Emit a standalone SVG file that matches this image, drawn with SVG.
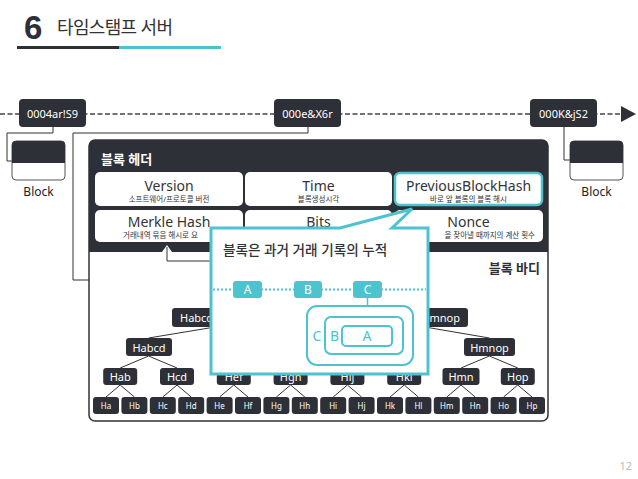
<svg xmlns="http://www.w3.org/2000/svg" width="638" height="479" viewBox="0 0 638 479">
<style>
text{font-family:"Noto Sans","Noto Sans CJK KR","Liberation Sans",sans-serif}
.dk{fill:#2e3038}
.wt{fill:#ffffff}
.ln{stroke:#333;stroke-width:1;fill:none}
.cell{fill:#fff}
.ct{font-size:14px;fill:#333;text-anchor:middle}
.cs{font-size:7.5px;fill:#333;text-anchor:middle}
.nt{font-size:11px;fill:#fff;text-anchor:middle}
.lt{font-size:8px;fill:#fff;text-anchor:middle}
.tl{fill:#4cc3cf}
.tlt{font-size:12px;fill:#fff;text-anchor:middle}
.nest{fill:none;stroke:#4cc3cf;stroke-width:2}
.nl{font-size:14px;fill:#4cc3cf;text-anchor:middle}
</style>

<g id="title">
<text x="24" y="39" style="font-family:'Liberation Sans',sans-serif;font-size:33px;font-weight:bold;fill:#2e3038">6</text>
<text x="57" y="34" textLength="116" style="font-size:18px;fill:#333">타임스탬프 서버</text>
<rect x="17" y="46" width="102" height="3" fill="#2e3038"/>
<rect x="119" y="46" width="102" height="3" fill="#4cc3cf"/>
</g>

<g id="connectors">
<line x1="0" y1="114" x2="622" y2="114" stroke="#444" stroke-width="1.5" stroke-dasharray="5,2.5"/>
<polygon points="621,106 636,114 621,122" fill="#2e3038"/>
<polyline class="ln" points="53,127 53,133 7,133 7,161 12,161"/>
<polyline class="ln" points="564,127 564,160 570,160"/>
<polyline class="ln" points="308,127 308,133 73,133 73,280 89,280"/>
</g>

<g id="node-0004">
<rect class="dk" x="19" y="99" width="67" height="28" rx="4"/>
<text class="nt" x="52.5" y="117.5">0004ar!S9</text>
</g>
<g id="node-000e">
<rect class="dk" x="274" y="99" width="67" height="28" rx="4"/>
<text class="nt" x="307.5" y="117.5">000e&amp;X6r</text>
</g>
<g id="node-000K">
<rect class="dk" x="530" y="99" width="67" height="28" rx="4"/>
<text class="nt" x="563.5" y="117.5">000K&amp;jS2</text>
</g>

<g id="block-left">
<rect x="12" y="141" width="53" height="39" rx="4" fill="#fff" stroke="#555" stroke-width="1"/>
<path d="M12,163 V145 a4,4 0 0 1 4,-4 H61 a4,4 0 0 1 4,4 V163 Z" class="dk"/>
<text x="38.5" y="196" style="font-size:12px;fill:#222;text-anchor:middle">Block</text>
</g>
<g id="block-right">
<rect x="570" y="141" width="53" height="39" rx="4" fill="#fff" stroke="#555" stroke-width="1"/>
<path d="M570,163 V145 a4,4 0 0 1 4,-4 H619 a4,4 0 0 1 4,4 V163 Z" class="dk"/>
<text x="596.5" y="196" style="font-size:12px;fill:#222;text-anchor:middle">Block</text>
</g>

<g id="block-panel">
<rect x="89" y="140" width="459" height="281" rx="6" fill="#fff" stroke="#333" stroke-width="1.5"/>
<path d="M89,252 V146 a6,6 0 0 1 6,-6 H542 a6,6 0 0 1 6,6 V252 Z" class="dk"/>
<polygon points="162,252 167,245 172,252" fill="#fff"/>
<text x="101" y="164" style="font-size:13px;font-weight:bold;fill:#fff">블록 헤더</text>
<text x="540" y="273" style="font-size:13px;font-weight:bold;fill:#2e3038;text-anchor:end">블록 바디</text>
</g>

<g id="cell-version">
<rect class="cell" x="95" y="172" width="148" height="34" rx="5"/>
<text class="ct" x="169" y="191">Version</text>
<text class="cs" x="169" y="202">소프트웨어/프로토콜 버전</text>
</g>
<g id="cell-time">
<rect class="cell" x="245" y="172" width="147" height="34" rx="5"/>
<text class="ct" x="318.5" y="191">Time</text>
<text class="cs" x="318.5" y="202">블록생성시각</text>
</g>
<g id="cell-prev">
<rect class="cell" x="395" y="173" width="147" height="32" rx="5" stroke="#4cc3cf" stroke-width="2.5"/>
<text class="ct" x="468.5" y="191">PreviousBlockHash</text>
<text class="cs" x="468.5" y="202">바로 앞 블록의 블록 해시</text>
</g>
<g id="cell-merkle">
<rect class="cell" x="95" y="210" width="148" height="32" rx="5"/>
<text class="ct" x="169" y="227">Merkle Hash</text>
<text class="cs" x="123" y="238" style="text-anchor:start">거래내역 묶음 해시로 요</text>
</g>
<g id="cell-bits">
<rect class="cell" x="245" y="210" width="147" height="32" rx="5"/>
<text class="ct" x="318.5" y="227">Bits</text>
</g>
<g id="cell-nonce">
<rect class="cell" x="395" y="210" width="148" height="32" rx="5"/>
<text class="ct" x="468.5" y="227">Nonce</text>
<text class="cs" x="535" y="238" style="text-anchor:end">을 찾아낼 때까지의 계산 횟수</text>
</g>
<g id="junctions">
<polygon points="244,203.5 248,208 244,212.5 240,208" class="dk"/>
<polygon points="393.5,203.5 397.5,208 393.5,212.5 389.5,208" class="dk"/>
</g>

<g id="tree-connectors">
<polyline class="ln" points="167,247 167,261 212,261"/>
<line class="ln" x1="148.6" y1="338" x2="215" y2="327"/>
<line class="ln" x1="489.4" y1="338" x2="425" y2="327"/>
<line class="ln" x1="148.6" y1="356" x2="120.2" y2="368"/>
<line class="ln" x1="148.6" y1="356" x2="177" y2="368"/>
<line class="ln" x1="489.4" y1="356" x2="461" y2="368"/>
<line class="ln" x1="489.4" y1="356" x2="517.8" y2="368"/>
<line class="ln" x1="120.2" y1="385" x2="106" y2="397"/>
<line class="ln" x1="120.2" y1="385" x2="134.4" y2="397"/>
<line class="ln" x1="177" y1="385" x2="162.8" y2="397"/>
<line class="ln" x1="177" y1="385" x2="191.2" y2="397"/>
<line class="ln" x1="233.8" y1="385" x2="219.6" y2="397"/>
<line class="ln" x1="233.8" y1="385" x2="248" y2="397"/>
<line class="ln" x1="290.6" y1="385" x2="276.4" y2="397"/>
<line class="ln" x1="290.6" y1="385" x2="304.8" y2="397"/>
<line class="ln" x1="347.4" y1="385" x2="333.2" y2="397"/>
<line class="ln" x1="347.4" y1="385" x2="361.6" y2="397"/>
<line class="ln" x1="404.2" y1="385" x2="390" y2="397"/>
<line class="ln" x1="404.2" y1="385" x2="418.4" y2="397"/>
<line class="ln" x1="461" y1="385" x2="446.8" y2="397"/>
<line class="ln" x1="461" y1="385" x2="475.2" y2="397"/>
<line class="ln" x1="517.8" y1="385" x2="503.6" y2="397"/>
<line class="ln" x1="517.8" y1="385" x2="532" y2="397"/>
</g>

<g id="tree-level1">
<rect class="dk" x="172" y="308" width="58" height="19" rx="3"/>
<text class="nt" x="180" y="322" style="text-anchor:start">Habcd</text>
<rect class="dk" x="410" y="308" width="58" height="19" rx="3"/>
<text class="nt" x="460" y="322" style="text-anchor:end">lmnop</text>
</g>
<g id="tree-level2">
<rect class="dk" x="126" y="338" width="46" height="18" rx="3"/>
<text class="nt" x="149" y="351.5">Habcd</text>
<rect class="dk" x="464" y="338" width="51" height="18" rx="3"/>
<text class="nt" x="489.5" y="351.5">Hmnop</text>
</g>
<g id="tree-level3">
<rect class="dk" x="103.2" y="368" width="34" height="17" rx="3"/><text class="nt" x="120.2" y="381">Hab</text>
<rect class="dk" x="160" y="368" width="34" height="17" rx="3"/><text class="nt" x="177" y="381">Hcd</text>
<rect class="dk" x="216.8" y="368" width="34" height="17" rx="3"/><text class="nt" x="233.8" y="381">Hef</text>
<rect class="dk" x="273.6" y="368" width="34" height="17" rx="3"/><text class="nt" x="290.6" y="381">Hgh</text>
<rect class="dk" x="330.4" y="368" width="34" height="17" rx="3"/><text class="nt" x="347.4" y="381">Hij</text>
<rect class="dk" x="387.2" y="368" width="34" height="17" rx="3"/><text class="nt" x="404.2" y="381">Hkl</text>
<rect class="dk" x="442.5" y="368" width="37" height="17" rx="3"/><text class="nt" x="461" y="381">Hmn</text>
<rect class="dk" x="500.8" y="368" width="34" height="17" rx="3"/><text class="nt" x="517.8" y="381">Hop</text>
</g>
<g id="tree-leaves">
<rect class="dk" x="93" y="397" width="26" height="17" rx="3"/><text class="lt" x="106" y="408.5">Ha</text>
<rect class="dk" x="121.4" y="397" width="26" height="17" rx="3"/><text class="lt" x="134.4" y="408.5">Hb</text>
<rect class="dk" x="149.8" y="397" width="26" height="17" rx="3"/><text class="lt" x="162.8" y="408.5">Hc</text>
<rect class="dk" x="178.2" y="397" width="26" height="17" rx="3"/><text class="lt" x="191.2" y="408.5">Hd</text>
<rect class="dk" x="206.6" y="397" width="26" height="17" rx="3"/><text class="lt" x="219.6" y="408.5">He</text>
<rect class="dk" x="235" y="397" width="26" height="17" rx="3"/><text class="lt" x="248" y="408.5">Hf</text>
<rect class="dk" x="263.4" y="397" width="26" height="17" rx="3"/><text class="lt" x="276.4" y="408.5">Hg</text>
<rect class="dk" x="291.8" y="397" width="26" height="17" rx="3"/><text class="lt" x="304.8" y="408.5">Hh</text>
<rect class="dk" x="320.2" y="397" width="26" height="17" rx="3"/><text class="lt" x="333.2" y="408.5">Hi</text>
<rect class="dk" x="348.6" y="397" width="26" height="17" rx="3"/><text class="lt" x="361.6" y="408.5">Hj</text>
<rect class="dk" x="377" y="397" width="26" height="17" rx="3"/><text class="lt" x="390" y="408.5">Hk</text>
<rect class="dk" x="405.4" y="397" width="26" height="17" rx="3"/><text class="lt" x="418.4" y="408.5">Hl</text>
<rect class="dk" x="433.8" y="397" width="26" height="17" rx="3"/><text class="lt" x="446.8" y="408.5">Hm</text>
<rect class="dk" x="462.2" y="397" width="26" height="17" rx="3"/><text class="lt" x="475.2" y="408.5">Hn</text>
<rect class="dk" x="490.6" y="397" width="26" height="17" rx="3"/><text class="lt" x="503.6" y="408.5">Ho</text>
<rect class="dk" x="519" y="397" width="26" height="17" rx="3"/><text class="lt" x="532" y="408.5">Hp</text>
</g>

<g id="callout">
<path d="M211,228 L340,228 L412,209 L392,228 L428,228 L428,374 L211,374 Z" fill="#fff" stroke="#4cc3cf" stroke-width="3" stroke-linejoin="miter"/>
<text x="223" y="255" style="font-size:13.6px;font-weight:500;fill:#333">블록은 과거 거래 기록의 누적</text>
<line x1="213" y1="289.5" x2="426" y2="289.5" stroke="#4cc3cf" stroke-width="2" stroke-dasharray="2,2"/>
<rect class="tl" x="233" y="281" width="29" height="17" rx="3"/><text class="tlt" x="247.5" y="294">A</text>
<rect class="tl" x="294" y="281" width="28" height="17" rx="3"/><text class="tlt" x="308" y="294">B</text>
<rect class="tl" x="353" y="281" width="29" height="17" rx="3"/><text class="tlt" x="367.5" y="294">C</text>
<line x1="367.5" y1="298" x2="367.5" y2="306" stroke="#4cc3cf" stroke-width="1.5"/>
<rect class="nest" x="307" y="306" width="106" height="59" rx="10"/>
<rect class="nest" x="325" y="317" width="78" height="37" rx="6"/>
<rect class="nest" x="342" y="326" width="50" height="20" rx="4"/>
<text class="nl" x="317" y="341">C</text>
<text class="nl" x="334.5" y="341">B</text>
<text class="nl" x="367" y="341">A</text>
</g>

<text x="632" y="470" style="font-size:11px;fill:#bbb;text-anchor:end">12</text>
</svg>
